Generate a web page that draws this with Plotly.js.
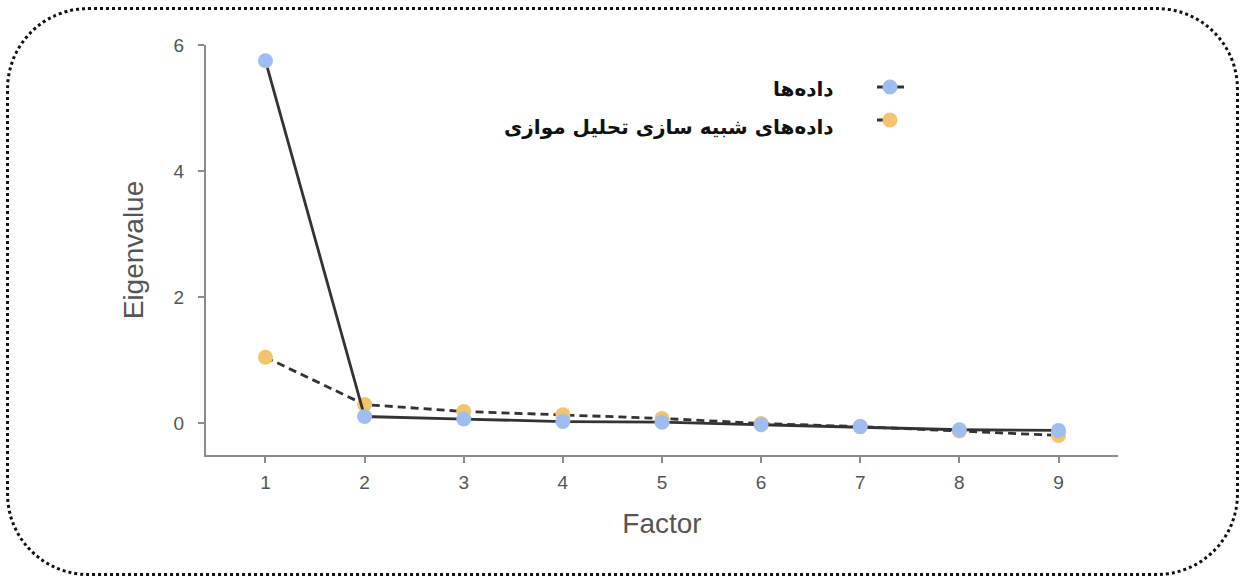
<!DOCTYPE html>
<html>
<head>
<meta charset="utf-8">
<script src="https://cdn.plot.ly/plotly-3.0.1.min.js"></script>
<style>
  html, body { margin: 0; padding: 0; background: #fff; }
  #wrap { position: relative; width: 1243px; height: 581px; }
  #chart { position: absolute; left: 0; top: 0; width: 1243px; height: 581px; }
  #frame { position: absolute; left: 6px; top: 7px; width: 1227px; height: 563px;
           border: 3px dotted #111; border-radius: 82px; pointer-events: none; }
</style>
</head>
<body>
<div id="wrap">
  <div id="chart"></div>
  <div id="frame"></div>
</div>
<script>
// ---- data ----
const factors = [1, 2, 3, 4, 5, 6, 7, 8, 9];
const dataEigen = [5.75, 0.11, 0.07, 0.03, 0.02, -0.02, -0.05, -0.10, -0.11];
const simEigen  = [1.05, 0.30, 0.19, 0.14, 0.08, 0.00, -0.05, -0.12, -0.19];
const seriesNames = ['داده‌ها', 'داده‌های شبیه سازی تحلیل موازی'];
const yTicks = [0, 2, 4, 6];
const xTicks = factors;
const xTitle = 'Factor';
const yTitle = 'Eigenvalue';

// ---- styles ----
const blue = '#9FBDF0';
const orange = '#F2C46E';
const lineDark = '#333333';
const axisGrey = '#8c8c8c';
const textGrey = '#555555';

const W = 1243, H = 581;
const M = {l: 206, r: 125, t: 45, b: 126};
const PW = W - M.l - M.r, PH = H - M.t - M.b;
const px2x = p => (p - M.l) / PW;
const px2y = p => (H - M.b - p) / PH;

const traces = [
  {
    x: factors, y: simEigen, name: seriesNames[1], type: 'scatter', mode: 'lines+markers',
    line: {color: lineDark, width: 2.8, dash: '8px,5px'},
    marker: {color: orange, size: 15, line: {width: 0}},
    showlegend: false, hoverinfo: 'x+y'
  },
  {
    x: factors, y: dataEigen, name: seriesNames[0], type: 'scatter', mode: 'lines+markers',
    line: {color: lineDark, width: 2.8},
    marker: {color: blue, size: 15, line: {width: 0}},
    showlegend: false, hoverinfo: 'x+y'
  }
];

// manual legend (text left of symbol, as in the reference)
const legendRows = [
  {name: seriesNames[0], color: blue, dash: 'solid', symY: 87, textY: 89},
  {name: seriesNames[1], color: orange, dash: 'dash', symY: 120, textY: 127}
];
const symX = 890;
const shapes = [];
const annotations = [];
legendRows.forEach(r => {
  shapes.push({
    type: 'line', xref: 'paper', yref: 'paper',
    x0: px2x(symX - 13), x1: px2x(r.dash === 'solid' ? symX + 14 : symX),
    y0: px2y(r.symY), y1: px2y(r.symY),
    line: {color: lineDark, width: 3}
  });
  shapes.push({
    type: 'circle', xref: 'paper', yref: 'paper',
    xsizemode: 'pixel', ysizemode: 'pixel',
    xanchor: px2x(symX), yanchor: px2y(r.symY),
    x0: -7.5, x1: 7.5, y0: -7.5, y1: 7.5,
    fillcolor: r.color, line: {width: 0}
  });
  annotations.push({
    xref: 'paper', yref: 'paper', x: px2x(836), y: px2y(r.textY),
    xanchor: 'right', yanchor: 'middle', showarrow: false,
    text: r.name,
    font: {family: 'DejaVu Sans, Noto Sans, sans-serif', size: 20, color: '#111', weight: 'bold'}
  });
});

const layout = {
  width: W, height: H,
  margin: {l: M.l, r: M.r, t: M.t, b: M.b, pad: 0},
  paper_bgcolor: '#ffffff', plot_bgcolor: '#ffffff',
  showlegend: false,
  font: {family: 'Liberation Sans, Arial, sans-serif', color: textGrey},
  xaxis: {
    range: [0.4, 9.6], tickvals: xTicks, ticktext: xTicks.map(String),
    showgrid: false, zeroline: false, showline: true, linecolor: axisGrey, linewidth: 2,
    ticks: 'outside', ticklen: 6, tickwidth: 2, tickcolor: axisGrey,
    tickfont: {size: 19, color: textGrey}, ticklabelstandoff: 3,
    title: {text: xTitle, font: {size: 28, color: textGrey}, standoff: 22},
    automargin: false, fixedrange: true
  },
  yaxis: {
    range: [-0.5, 6], tickvals: yTicks, ticktext: yTicks.map(String),
    showgrid: false, zeroline: false, showline: true, linecolor: axisGrey, linewidth: 2,
    ticks: 'outside', ticklen: 6, tickwidth: 2, tickcolor: axisGrey,
    tickfont: {size: 19, color: textGrey}, ticklabelstandoff: 10,
    title: {text: yTitle, font: {size: 28, color: textGrey}, standoff: 22},
    automargin: false, fixedrange: true
  },
  shapes: shapes,
  annotations: annotations
};

Plotly.newPlot('chart', traces, layout, {displayModeBar: false, staticPlot: true});
</script>
</body>
</html>
